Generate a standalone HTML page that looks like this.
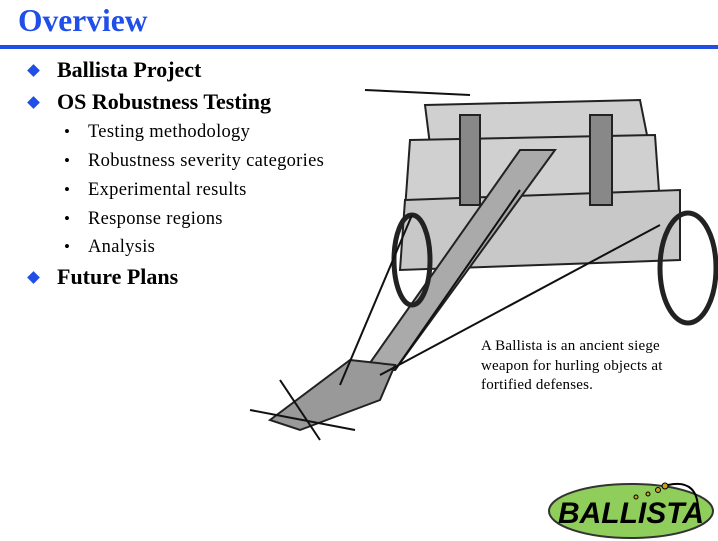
<!DOCTYPE html>
<html><head><meta charset="utf-8"><style>
body{margin:0;width:718px;height:541px;background:#fff;position:relative;overflow:hidden;font-family:"Liberation Serif",serif}
.t{position:absolute;left:18px;top:3px;font-size:31.5px;font-weight:bold;color:#1f4ee8}
.rule{position:absolute;left:0;top:45px;width:718px;height:4px;background:#1f4ee8}
.b1{position:absolute;font-size:22px;font-weight:bold;color:#000;left:57px}
.d{position:absolute;left:29px;width:9px;height:9px;background:#1f4ee8;transform:rotate(45deg)}
.b2{position:absolute;font-size:18.5px;letter-spacing:0.3px;color:#000;left:88px;white-space:nowrap}
.dot{position:absolute;left:64px;font-size:17px}
.cap{position:absolute;left:481px;top:337px;font-size:15px;letter-spacing:0.2px;line-height:19.5px;color:#000;white-space:nowrap}
</style></head><body>
<div class="t">Overview</div><div class="rule"></div>
<svg style="position:absolute;left:0;top:0" width="718" height="541">
<g stroke="#222" stroke-width="2" fill="#d0d0d0">
<polygon points="425,105 640,100 648,140 430,145"/>
<polygon points="410,140 655,135 660,205 405,210"/>
<polygon points="405,200 680,190 680,260 400,270" fill="#c8c8c8"/>
<polygon points="520,150 555,150 395,370 365,370" fill="#aaa"/>
<polygon points="350,360 395,365 380,400 300,430 270,420" fill="#999"/>
<rect x="460" y="115" width="20" height="90" fill="#888"/>
<rect x="590" y="115" width="22" height="90" fill="#888"/>
</g>
<ellipse cx="688" cy="268" rx="28" ry="55" fill="none" stroke="#222" stroke-width="5"/>
<ellipse cx="412" cy="260" rx="18" ry="45" fill="none" stroke="#222" stroke-width="5"/>
<g stroke="#111" stroke-width="2">
<line x1="365" y1="90" x2="470" y2="95"/>
<line x1="412" y1="215" x2="340" y2="385"/>
<line x1="660" y1="225" x2="380" y2="375"/>
<line x1="520" y1="190" x2="395" y2="370"/>
<line x1="280" y1="380" x2="320" y2="440"/>
<line x1="250" y1="410" x2="355" y2="430"/>
</g>
<ellipse cx="631" cy="511" rx="82" ry="27" fill="#8fce5a" stroke="#333" stroke-width="2"/>
<text x="631" y="523" text-anchor="middle" font-family="Liberation Sans,sans-serif" font-weight="bold" font-style="italic" font-size="30" fill="#000">BALLISTA</text>
<g fill="#c8a020" stroke="#000"><circle cx="636" cy="497" r="2"/><circle cx="648" cy="494" r="2"/><circle cx="658" cy="490" r="2.5"/><circle cx="665" cy="486" r="3"/></g>
<path d="M668 485 Q700 478 698 515" fill="none" stroke="#000" stroke-width="2"/>
</svg>
<div class="d" style="top:66px"></div><div class="b1" style="top:57px">Ballista Project</div>
<div class="d" style="top:98px"></div><div class="b1" style="top:89px">OS Robustness Testing</div>
<div class="dot" style="top:122px">•</div><div class="b2" style="top:122px">Testing methodology</div>
<div class="dot" style="top:151px">•</div><div class="b2" style="top:151px">Robustness severity categories</div>
<div class="dot" style="top:180px">•</div><div class="b2" style="top:180px">Experimental results</div>
<div class="dot" style="top:209px">•</div><div class="b2" style="top:209px">Response regions</div>
<div class="dot" style="top:237px">•</div><div class="b2" style="top:237px">Analysis</div>
<div class="d" style="top:273px"></div><div class="b1" style="top:264px">Future Plans</div>
<div class="cap">A Ballista is an ancient siege<br>weapon for hurling objects at<br>fortified defenses.</div>
</body></html>
